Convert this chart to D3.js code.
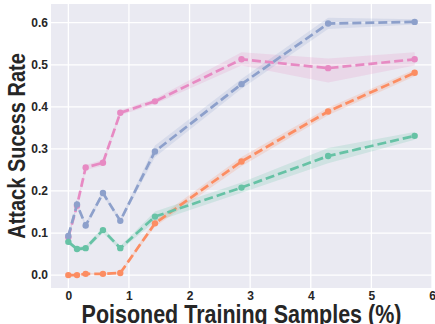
<!DOCTYPE html>
<html><head><meta charset="utf-8">
<script src="https://cdn.jsdelivr.net/npm/d3@7"></script>
<style>body{margin:0;background:#fff;} svg{display:block;}</style>
</head><body><svg id="c" width="435" height="324"></svg>
<script>
const xs = [0, 0.143, 0.286, 0.571, 0.857, 1.429, 2.857, 4.286, 5.714];
const seriesNames = ["pink", "blue", "orange", "green"];
const colors = ["#e78ac3", "#8da0cb", "#fc8d62", "#66c2a5"];
const pinkVals   = [0.090, 0.165, 0.256, 0.267, 0.386, 0.413, 0.513, 0.492, 0.513];
const pinkLo     = [0.086, 0.160, 0.250, 0.260, 0.380, 0.407, 0.498, 0.458, 0.498];
const pinkHi     = [0.094, 0.170, 0.262, 0.274, 0.392, 0.419, 0.530, 0.515, 0.530];
const blueVals   = [0.093, 0.168, 0.118, 0.195, 0.129, 0.294, 0.454, 0.598, 0.602];
const blueLo     = [0.089, 0.163, 0.113, 0.189, 0.124, 0.280, 0.443, 0.585, 0.596];
const blueHi     = [0.097, 0.173, 0.123, 0.201, 0.134, 0.308, 0.466, 0.612, 0.608];
const orangeVals = [0.000, 0.000, 0.003, 0.003, 0.005, 0.123, 0.270, 0.389, 0.481];
const orangeLo   = [0.000, 0.000, 0.001, 0.001, 0.003, 0.115, 0.259, 0.380, 0.473];
const orangeHi   = [0.001, 0.001, 0.005, 0.005, 0.007, 0.131, 0.281, 0.398, 0.489];
const greenVals  = [0.079, 0.062, 0.064, 0.107, 0.064, 0.139, 0.208, 0.283, 0.331];
const greenLo    = [0.075, 0.057, 0.058, 0.100, 0.059, 0.127, 0.196, 0.266, 0.322];
const greenHi    = [0.083, 0.067, 0.070, 0.114, 0.069, 0.151, 0.220, 0.302, 0.340];
const xTicks = [0, 1, 2, 3, 4, 5, 6];
const yTicks = [0.0, 0.1, 0.2, 0.3, 0.4, 0.5, 0.6];
const xLabel = "Poisoned Training Samples (%)";
const yLabel = "Attack Sucess Rate";

const series = [
  {vals: pinkVals, lo: pinkLo, hi: pinkHi},
  {vals: blueVals, lo: blueLo, hi: blueHi},
  {vals: orangeVals, lo: orangeLo, hi: orangeHi},
  {vals: greenVals, lo: greenLo, hi: greenHi}
];

const L = 51, R = 432, T = 4, B = 288;
const x = d3.scaleLinear().domain([-0.286, 6.0]).range([L, R]);
const y = d3.scaleLinear().domain([-0.0307, 0.6445]).range([B, T]);
const svg = d3.select("#c");
const font = "'Liberation Sans', Arial, sans-serif";

svg.append("rect").attr("x", L).attr("y", T).attr("width", R - L).attr("height", B - T).attr("fill", "#eaeaf2");

const g = svg.append("g");
g.selectAll(".gx").data(xTicks).join("line")
  .attr("x1", d => x(d)).attr("x2", d => x(d)).attr("y1", T).attr("y2", B)
  .attr("stroke", "#fff").attr("stroke-width", 1.3);
g.selectAll(".gy").data(yTicks).join("line")
  .attr("y1", d => y(d)).attr("y2", d => y(d)).attr("x1", L).attr("x2", R)
  .attr("stroke", "#fff").attr("stroke-width", 1.3);

const xAxis = svg.append("g").attr("transform", `translate(0,${B})`)
  .call(d3.axisBottom(x).tickValues(xTicks).tickFormat(d3.format("d")).tickSize(0).tickPadding(3.5));
const yAxis = svg.append("g").attr("transform", `translate(${L},0)`)
  .call(d3.axisLeft(y).tickValues(yTicks).tickFormat(d3.format(".1f")).tickSize(0).tickPadding(3));
[xAxis, yAxis].forEach(a => {
  a.select(".domain").remove();
  a.selectAll("text").attr("font-family", font).attr("font-size", "12px")
    .attr("font-weight", "bold").attr("fill", "#262626");
});

const area = d3.area().x((d, i) => x(xs[i])).y0(d => y(d[0])).y1(d => y(d[1]));
const line = d3.line().x((d, i) => x(xs[i])).y(d => y(d));

series.forEach((s, k) => {
  const band = s.lo.map((v, i) => [v, s.hi[i]]);
  svg.append("path").datum(band).attr("d", area)
    .attr("fill", colors[k]).attr("fill-opacity", 0.2).attr("stroke", "none");
});
series.forEach((s, k) => {
  svg.append("path").datum(s.vals).attr("d", line)
    .attr("fill", "none").attr("stroke", colors[k]).attr("stroke-width", 2.7)
    .attr("stroke-dasharray", "9,4");
  svg.append("g").selectAll("circle").data(s.vals).join("circle")
    .attr("cx", (d, i) => x(xs[i])).attr("cy", d => y(d)).attr("r", 3.2)
    .attr("fill", colors[k]);
});

svg.append("text").attr("transform", `translate(${(L + R) / 2},323) scale(1,1.17)`)
  .attr("text-anchor", "middle")
  .attr("font-family", font).attr("font-size", "21.5px").attr("font-weight", "bold")
  .attr("fill", "#262626").text(xLabel);
svg.append("text").attr("transform", `translate(25,${(T + B) / 2}) rotate(-90) scale(1,1.23)`)
  .attr("text-anchor", "middle")
  .attr("font-family", font).attr("font-size", "20px").attr("font-weight", "bold")
  .attr("fill", "#262626").text(yLabel);
</script></body></html>
